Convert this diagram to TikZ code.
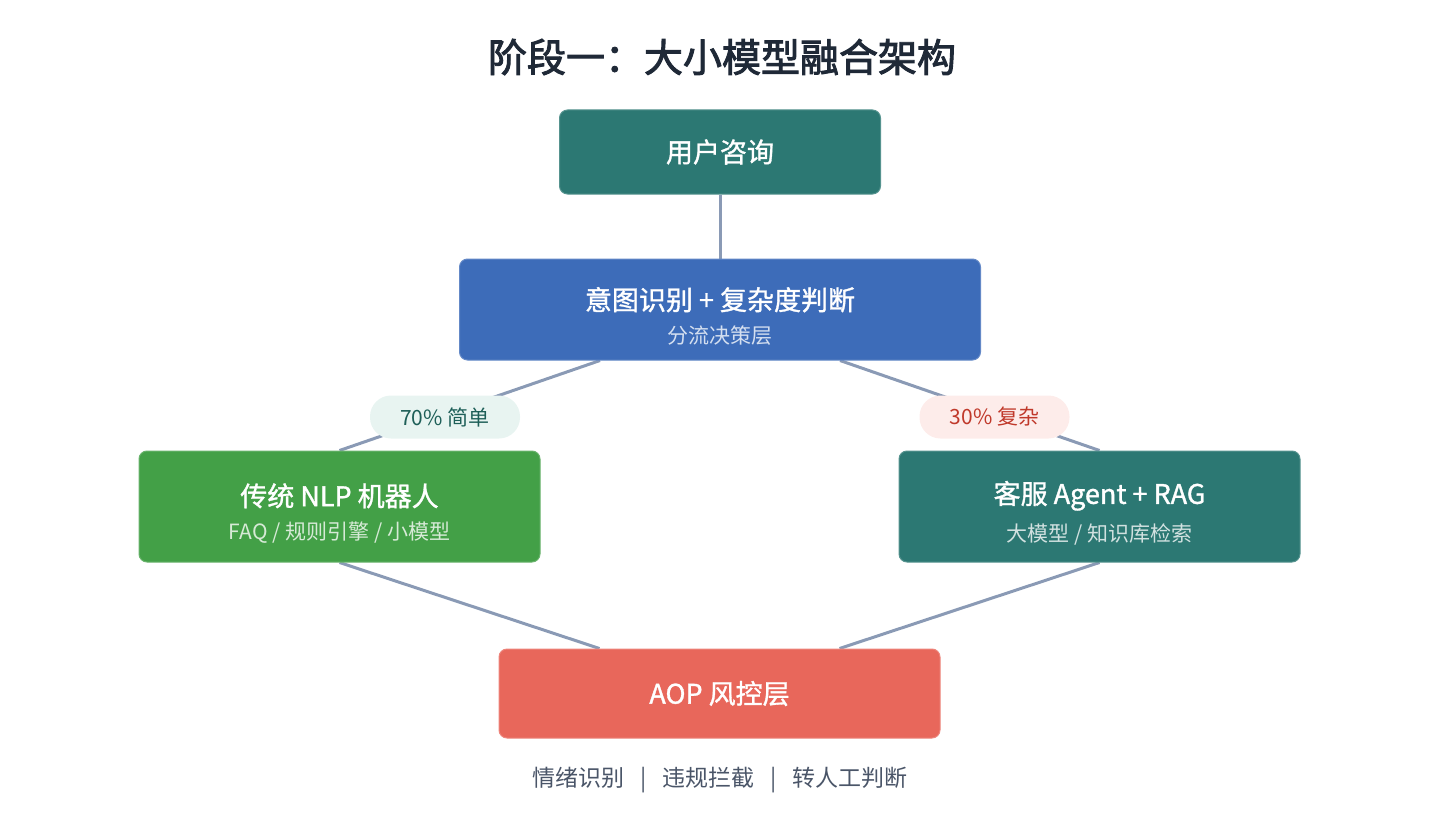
\documentclass[tikz,border=0pt]{standalone}
\usepackage{fontspec}
\setmainfont{Noto Sans CJK SC}
\newfontfamily\medfont{Noto Sans CJK SC}[FakeBold=1.2]
\newfontfamily\headfont{Noto Sans CJK SC}[FakeBold=2.4]
\usetikzlibrary{backgrounds}
\definecolor{tealbox}{HTML}{2C7873}
\definecolor{bluebox}{HTML}{3D6CB9}
\definecolor{greenbox}{HTML}{43A047}
\definecolor{redbox}{HTML}{E8675B}
\definecolor{linkcol}{HTML}{8A9AB5}
\definecolor{titlecol}{HTML}{1F2937}
\definecolor{notecol}{HTML}{4A5568}
\definecolor{simplebg}{HTML}{E8F4F1}
\definecolor{simplefg}{HTML}{1E5F58}
\definecolor{complexbg}{HTML}{FDECEA}
\definecolor{complexfg}{HTML}{C0392B}
\newcommand{\boxtitle}[1]{{\medfont\fontsize{27}{32}\selectfont #1}}
\newcommand{\boxsub}[2]{{\color{white!78!#1}\fontsize{21}{25}\selectfont #2}}
\newcommand{\boxpair}[3]{\rule{0pt}{36pt}\boxtitle{#2}\\[12pt]\boxsub{#1}{#3}}
\begin{document}
\begin{tikzpicture}[x=1pt,y=-1pt,
	box/.style={draw=#1!80!white,fill=#1,line width=1pt,rounded corners=8pt,text=white,align=center,inner sep=0pt},
	link/.style={draw=linkcol,line width=3pt},
	pill/.style={fill=#1,rounded corners=21pt,minimum width=150pt,minimum height=43pt,inner sep=0pt,font=\fontsize{21}{25}\selectfont}]
	\useasboundingbox (0,0) rectangle (1440,840);
	\node[font=\headfont\fontsize{39}{44}\selectfont,text=titlecol] (title) at (722,57) {阶段一：大小模型融合架构};
	\node[box=tealbox,minimum width=321pt,minimum height=84pt] (user) at (720,152) {\boxtitle{用户咨询}};
	\node[box=bluebox,minimum width=521pt,minimum height=101pt] (decide) at (720,309.5) {\boxpair{bluebox}{意图识别 + 复杂度判断}{分流决策层}};
	\node[box=greenbox,minimum width=401pt,minimum height=111pt] (nlp) at (339.5,506.5) {\boxpair{greenbox}{传统 NLP 机器人}{FAQ / 规则引擎 / 小模型}};
	\node[box=tealbox,minimum width=401pt,minimum height=111pt] (agent) at (1099.5,506.5) {\boxpair{tealbox}{客服 Agent + RAG}{大模型 / 知识库检索}};
	\node[box=redbox,minimum width=441pt,minimum height=89pt] (aop) at (719.5,693.5) {\boxtitle{AOP 风控层}};
	\node[text=notecol,font=\fontsize{23}{27}\selectfont] (note) at (720,780) {情绪识别\hspace{16pt}|\hspace{16pt}违规拦截\hspace{16pt}|\hspace{16pt}转人工判断};
	\begin{scope}[on background layer]
	\draw[link] (user) -- (decide);
	\draw[link] ([xshift=-120pt]decide.south) -- (nlp.north);
	\draw[link] ([xshift=120pt]decide.south) -- (agent.north);
	\draw[link] (nlp.south) -- ([xshift=-120pt]aop.north);
	\draw[link] (agent.south) -- ([xshift=120pt]aop.north);
	\end{scope}
	\node[pill=simplebg,text=simplefg] (simple) at (445,417) {70\% 简单};
	\node[pill=complexbg,text=complexfg] (complex) at (994.5,417) {30\% 复杂};
\end{tikzpicture}
\end{document}
